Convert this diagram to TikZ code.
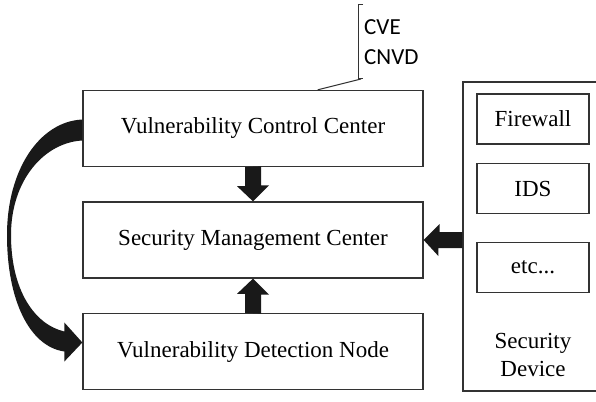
\documentclass[tikz,border=0pt]{standalone}
\usepackage{fontspec}
\setmainfont{Liberation Serif}
\newfontfamily\tnr{Liberation Serif}
\newfontfamily\calib{Carlito}
\usetikzlibrary{calc}
\begin{document}
\begin{tikzpicture}[x=1pt,y=-1pt,
  txt/.style={font=\tnr\fontsize{23}{28}\selectfont},
  box/.style={txt, draw=black!80, line width=1.3pt, minimum width=340pt, minimum height=76pt, inner sep=0pt},
  devbox/.style={box, minimum width=112pt, minimum height=50pt},
  arr/.style={fill=black!90},
  note/.style={font=\calib\fontsize{23}{28}\selectfont, inner sep=0pt},
  callout/.style={draw=black!80, line width=1pt}]
\useasboundingbox (0,0) rectangle (596,401);
\clip (0,0) rectangle (596,401);
\fill[white] (0,0) rectangle (596,401);
% main boxes
\node[box] (vcc) at (253,128.5) {Vulnerability Control Center};
\node[box] (smc) at (253,240) {Security Management Center};
\node[box] (vdn) at (253,351.5) {Vulnerability Detection Node};
% security device
\node[box, minimum width=140pt, minimum height=309pt] (sd) at (533,236.5) {};
\node[devbox] (fw) at (533,119) {Firewall};
\node[devbox] (ids) at (533,188.5) {IDS};
\node[devbox] (etc) at (533,267.5) {etc...};
\node[txt, align=center, inner sep=0pt] (sdl) at (533,355) {Security\\Device};
% callout
\node[note, anchor=base west] (cve) at (364,35) {CVE};
\node[note, anchor=base west] (cnvd) at (364,65) {CNVD};
\coordinate (cb) at (358,79);
\draw[callout] (363,5) -- (358,5) -- (cb) -- ++(5,0);
\draw[callout] ($(cb)+(3,0)$) -- ($(vcc.north east)+(-106,0)$);
% straight arrows
\fill[arr] ($(vcc.south)+(-8,0)$) -- ++(0,19) -- ++(-8,0) -- (smc.north) -- ++(16,-16) -- ++(-8,0) -- ++(0,-19) -- cycle;
\fill[arr] ($(vdn.north)+(-8,0)$) -- ++(0,-19) -- ++(-8,0) -- (smc.south) -- ++(16,16) -- ++(-8,0) -- ++(0,19) -- cycle;
\fill[arr] (smc.east) -- ++(16,-16) -- ++(0,8) -- ($(sd.west |- smc.east)+(0,-8)$) -- ++(0,16) -- ++(-24,0) -- ++(0,8) -- cycle;
% curved arrow
\fill[arr] ($(vcc.west)+(0,-9)$) .. controls +(-43,2) and +(0,-65) .. (7,235)
  .. controls +(0,65) and +(-35,-5) .. ($(vdn.west)+(-18,0)$)
  -- ++(0,10) -- ($(vdn.west)+(0,-9)$) -- ($(vdn.west)+(-18,-29)$) -- ++(0,9)
  .. controls +(-30,-7) and +(0,55) .. (11,235)
  .. controls +(0,-55) and +(-38,2) .. ($(vcc.west)+(0,12)$) -- cycle;
\end{tikzpicture}
\end{document}
